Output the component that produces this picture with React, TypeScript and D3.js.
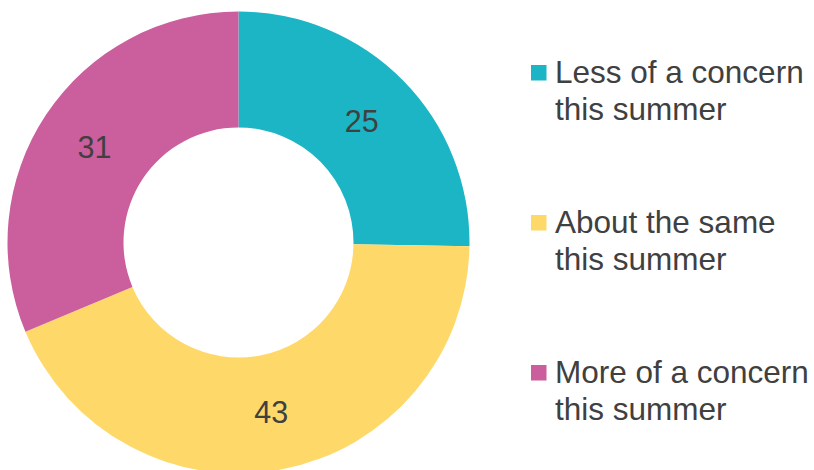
import { useRef, useEffect } from 'react'
import * as d3 from 'd3'

const categories = ['Less of a concern', 'About the same', 'More of a concern']
const secondLines = ['this summer', 'this summer', 'this summer']
const values = [25, 43, 31]
const colors = ['#1cb5c5', '#fed96a', '#cb5e9d']

const width = 814
const height = 470
const font = 'Liberation Sans'

export default function App() {
  const svgRef = useRef<SVGSVGElement>(null)

  useEffect(() => {
    if (!svgRef.current) return
    const svg = d3.select(svgRef.current)
    svg.selectAll('*').remove()

    const cx = 238.5
    const cy = 242.5
    const outerR = 231
    const innerR = 115

    const pie = d3.pie<number>().sort(null).value((d: number) => d)
    const arcs = pie(values)
    const arc = d3.arc<d3.PieArcDatum<number>>()
      .innerRadius(innerR)
      .outerRadius(outerR)

    const g = svg.append('g').attr('transform', `translate(${cx},${cy})`)

    g.selectAll('path.slice')
      .data(arcs)
      .join('path')
      .attr('class', 'slice')
      .attr('fill', (_: unknown, i: number) => colors[i])
      .attr('d', arc)

    g.selectAll('text.label')
      .data(arcs)
      .join('text')
      .attr('class', 'label')
      .attr('transform', (d: d3.PieArcDatum<number>) => `translate(${arc.centroid(d)})`)
      .attr('text-anchor', 'middle')
      .attr('dy', '0.36em')
      .style('font-family', font)
      .style('font-size', '30.5px')
      .attr('fill', '#404040')
      .text((d: d3.PieArcDatum<number>) => d.data)

    // legend
    const legend = svg.append('g')
    const rowY = d3.scalePoint<string>().domain(categories).range([83, 383])

    categories.forEach((c, i) => {
      const y = rowY(c) ?? 0
      legend.append('rect')
        .attr('x', 531)
        .attr('y', y - 18)
        .attr('width', 15.5)
        .attr('height', 15.5)
        .attr('fill', colors[i])
      const t = legend.append('text')
        .attr('x', 555)
        .attr('y', y)
        .style('font-family', font)
        .style('font-size', '31.5px')
        .attr('fill', '#404040')
      t.append('tspan').attr('x', 555).text(c)
      t.append('tspan').attr('x', 555).attr('dy', 37).text(secondLines[i])
    })
  }, [])

  return (
    <svg
      ref={svgRef}
      width={width}
      height={height}
      style={{ position: 'absolute', left: 0, top: 0, background: '#fff' }}
    />
  )
}
